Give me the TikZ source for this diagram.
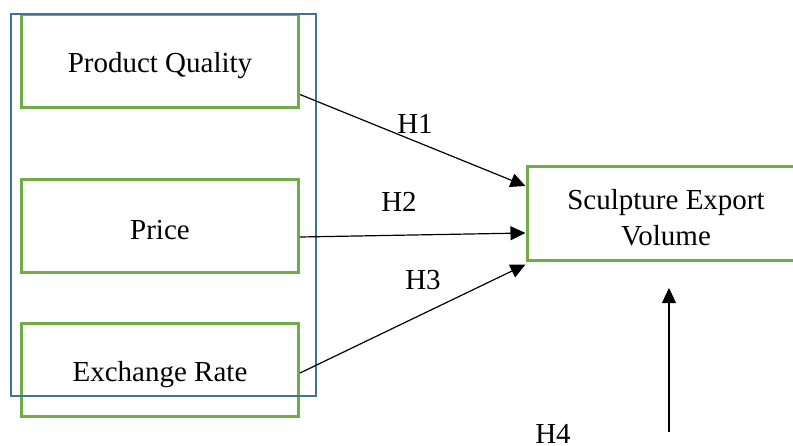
\documentclass[tikz,border=0pt]{standalone}
\usepackage{fontspec}
\setmainfont{Liberation Serif}
\usetikzlibrary{arrows.meta,calc}
\definecolor{boxgreen}{HTML}{70AD47}
\definecolor{boxblue}{HTML}{41719C}
\begin{document}
\begin{tikzpicture}[x=0.5pt,y=-0.5pt,
  txt/.style={font=\fontsize{14.5}{18}\selectfont},
  gbox/.style={draw=boxgreen,line width=1.5pt,rectangle,minimum width=138.5pt,minimum height=46.5pt,inner sep=0pt},
  btxt/.style={label={[txt,align=center,yshift=-2.5pt]center:#1}},
  arr/.style={-{Triangle[length=7.5pt,width=7pt]},line width=0.6pt},
  lab/.style={txt,inner sep=0pt,anchor=base}]
\useasboundingbox (0,0) rectangle (793,445);
\begin{scope}
\clip (0,0) rectangle (793,445);
\node[gbox,btxt={Product Quality}] (pq) at (160,60.5) {};
\node[gbox,btxt={Price}] (pr) at (160,225.5) {};
\node[gbox,btxt={Exchange Rate}] (er) at (160,370) {};
\node[gbox,minimum width=139pt,minimum height=47pt,btxt={Sculpture Export\\Volume}] (sev) at (666,213) {};
\node[draw=boxblue,line width=1pt,rectangle,inner sep=0pt,minimum width=152.5pt,minimum height=191pt] (grp) at (163.5,205) {};
\draw[arr] ($(pq.south east)+(0,-14)$) -- ($(sev.west)+(0,-27)$);
\draw[arr] ($(pr.east)+(0,11.5)$) -- ($(sev.west)+(0,20)$);
\draw[arr] ($(er.east)+(0,3)$) -- ($(sev.south west)+(0,3)$);
\coordinate (h4a) at (669,432);
\coordinate (h4b) at (669,288);
\draw[arr] (h4a) -- (h4b);
\node[lab] (l1) at (415,133) {H1};
\node[lab] (l2) at (399,211) {H2};
\node[lab] (l3) at (423,289) {H3};
\node[lab] (l4) at (553,443) {H4};
\end{scope}
\end{tikzpicture}
\end{document}
